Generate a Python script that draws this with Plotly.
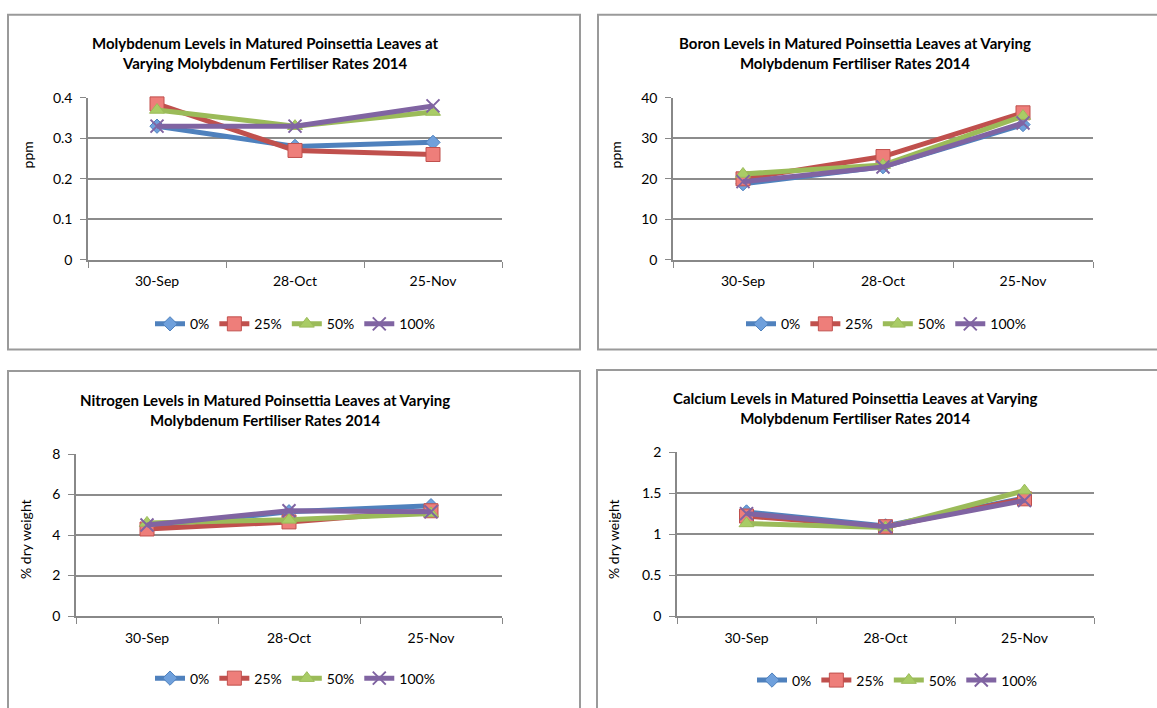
import plotly.graph_objects as go

W, H = 1157, 708

dates = ["30-Sep", "28-Oct", "25-Nov"]
series_names = ["0%", "25%", "50%", "100%"]

mo_0 = [0.33, 0.28, 0.29]
mo_25 = [0.385, 0.27, 0.26]
mo_50 = [0.37, 0.33, 0.365]
mo_100 = [0.33, 0.33, 0.38]

b_0 = [18.8, 23.0, 33.4]
b_25 = [20.0, 25.5, 36.3]
b_50 = [21.2, 23.4, 35.5]
b_100 = [19.3, 22.9, 33.8]

n_0 = [4.43, 5.15, 5.45]
n_25 = [4.3, 4.65, 5.2]
n_50 = [4.6, 4.75, 5.07]
n_100 = [4.5, 5.2, 5.15]

ca_0 = [1.27, 1.1, 1.44]
ca_25 = [1.22, 1.09, 1.43]
ca_50 = [1.13, 1.08, 1.53]
ca_100 = [1.25, 1.09, 1.41]

titles = [
    "Molybdenum Levels in Matured Poinsettia Leaves at<br>Varying Molybdenum Fertiliser Rates 2014",
    "Boron Levels in Matured Poinsettia Leaves at Varying<br>Molybdenum Fertiliser Rates 2014",
    "Nitrogen Levels in Matured Poinsettia Leaves at Varying<br>Molybdenum Fertiliser Rates 2014",
    "Calcium Levels in Matured Poinsettia Leaves at Varying<br>Molybdenum Fertiliser Rates 2014",
]
y_titles = ["ppm", "ppm", "% dry weight", "% dry weight"]
y_ranges = [[0, 0.4], [0, 40], [0, 8], [0, 2]]
y_dticks = [0.1, 10, 2, 0.5]

panels_data = [
    [mo_0, mo_25, mo_50, mo_100],
    [b_0, b_25, b_50, b_100],
    [n_0, n_25, n_50, n_100],
    [ca_0, ca_25, ca_50, ca_100],
]

line_colors = ["#4F81BD", "#C0504D", "#9BBB59", "#8064A2"]
fill_colors = ["#6FA0DC", "#EE7E7A", "#A9CC66", "#9A80BE"]
symbols = ["diamond", "square", "triangle-up", "x-thin"]
sizes = [11, 14, 13, 13]

FONT = "Lato"

# plot-area pixel boxes: (x0, x1, ytop, ybottom)
plot_boxes = [
    (88, 502, 91, 257),
    (673, 1093, 91, 257),
    (76, 502, 456, 622),
    (677, 1094, 454, 622),
]
title_pos = [(265, 45), (855, 45), (265, 411), (855, 409)]
ytitle_pos = [(27, 150), (615, 150), (26, 543), (614, 543)]
legend_pos = [(295, 323), (886, 323), (295, 686), (897, 688)]
border_boxes = [(8, 580, 6, 349), (598, 1165, 6, 349), (8, 580, 371, 720), (597, 1165, 370, 720)]


def px(x):
    return x / W


def py(y):
    return 1 - y / H


fig = go.Figure()
layout = dict(
    width=W, height=H, margin=dict(l=0, r=0, t=0, b=0),
    paper_bgcolor="white", plot_bgcolor="white",
    font=dict(family=FONT, size=14, color="#000000"),
    annotations=[], shapes=[],
)

for p in range(4):
    suffix = "" if p == 0 else str(p + 1)
    xa = "x" + suffix
    ya = "y" + suffix
    lg = "legend" + suffix
    for s in range(4):
        sym = symbols[s]
        if sym == "x-thin":
            marker = dict(symbol=sym, size=sizes[s], color=line_colors[s],
                          line=dict(color=line_colors[s], width=2))
        else:
            marker = dict(symbol=sym, size=sizes[s], color=fill_colors[s],
                          line=dict(color=line_colors[s], width=1))
        fig.add_trace(go.Scatter(
            x=dates, y=panels_data[p][s], name=series_names[s],
            mode="lines+markers", xaxis=xa, yaxis=ya, legend=lg,
            line=dict(color=line_colors[s], width=5),
            marker=marker, cliponaxis=False,
        ))
    x0, x1, yt, yb = plot_boxes[p]
    layout["xaxis" + suffix] = dict(
        domain=[px(x0), px(x1)], anchor=ya, type="category",
        range=[-0.5, 2.5], showgrid=False, showline=True,
        linecolor="#888888", linewidth=1.5, ticks="outside", ticklen=6,
        tickcolor="#888888", tickson="boundaries", ticklabelstandoff=8,
        tickfont=dict(size=14, family=FONT), zeroline=False,
    )
    layout["yaxis" + suffix] = dict(
        domain=[py(yb), py(yt)], anchor=xa, range=y_ranges[p],
        dtick=y_dticks[p], showgrid=True, gridcolor="#8C8C8C", gridwidth=1.5,
        showline=True, linecolor="#888888", linewidth=1.5, ticks="outside",
        ticklen=6, tickcolor="#888888", zeroline=False, ticklabelstandoff=5,
        tickfont=dict(size=14, family=FONT),
    )
    lx, ly = legend_pos[p]
    layout[lg] = dict(
        orientation="h", x=px(lx), y=py(ly), xanchor="center", yanchor="middle",
        font=dict(size=14, family=FONT), bgcolor="rgba(0,0,0,0)",
        itemwidth=30, tracegroupgap=0,
    )
    tx, ty = title_pos[p]
    layout["annotations"].append(dict(
        text="<b>" + titles[p] + "</b>", x=px(tx), y=py(ty), xref="paper",
        yref="paper", showarrow=False, xanchor="center", yanchor="middle",
        font=dict(size=15, family=FONT), align="center",
    ))
    ax_, ay_ = ytitle_pos[p]
    layout["annotations"].append(dict(
        text=y_titles[p], x=px(ax_), y=py(ay_), xref="paper", yref="paper",
        showarrow=False, textangle=-90, xanchor="center", yanchor="middle",
        font=dict(size=14, family=FONT),
    ))
    bx0, bx1, by0, by1 = border_boxes[p]
    layout["shapes"].append(dict(
        type="rect", xref="paper", yref="paper",
        x0=px(bx0), x1=px(bx1), y0=py(by1), y1=py(by0),
        line=dict(color="#9A9A9A", width=2), fillcolor="rgba(0,0,0,0)",
        layer="below",
    ))

fig.update_layout(**layout)
fig.write_html(
    "out.html",
    config={"displayModeBar": False},
    post_script="document.body.style.margin='0';document.body.style.padding='0';document.body.style.overflow='hidden';",
)
